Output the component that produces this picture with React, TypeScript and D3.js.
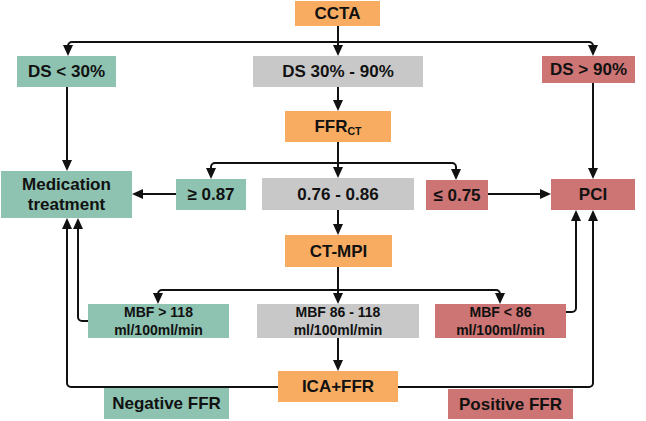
import React from "react";
import * as d3 from "d3";

// ---- Data ----
const nodeIds = ["ccta","ds30","ds3090","ds90","ffr","med","ge087","mid","le075","pci","ctmpi","mbf118","mbf86118","mbf86","ica","neg","pos"];
const nodeLabels: string[][] = [
  ["CCTA"], ["DS < 30%"], ["DS 30% - 90%"], ["DS > 90%"], ["FFR|CT"],
  ["Medication","treatment"], ["≥ 0.87"], ["0.76 - 0.86"], ["≤ 0.75"], ["PCI"],
  ["CT-MPI"], ["MBF > 118","ml/100ml/min"], ["MBF 86 - 118","ml/100ml/min"], ["MBF < 86","ml/100ml/min"],
  ["ICA+FFR"], ["Negative FFR"], ["Positive FFR"],
];
const nodeKinds = ["step","neg","mid","pos","step","neg","neg","mid","pos","pos","step","neg","mid","pos","step","neg","pos"];
const edgeNames = ["ccta-ds3090","ccta-ds30","ccta-ds90","ds3090-ffr","ds30-med","ds90-pci","ffr-mid","ffr-ge","ffr-le","ge-med","le-pci","mid-ctmpi","ctmpi-mbf86118","ctmpi-mbf118","ctmpi-mbf86","mbf118-med","mbf86-pci","mbf86118-ica","ica-med","ica-pci"];

// ---- Layout (pixel boxes: x0, y0, x1, y1) ----
const boxes: Record<string, [number, number, number, number]> = {
  ccta: [295, 1, 380, 26],
  ds30: [17, 56, 116, 87],
  ds3090: [253, 56, 423, 87],
  ds90: [542, 56, 635, 83],
  ffr: [285, 111, 391, 142],
  med: [1, 171, 132, 218],
  ge087: [176, 179, 246, 210],
  mid: [262, 178, 414, 210],
  le075: [426, 180, 488, 210],
  pci: [551, 179, 635, 210],
  ctmpi: [285, 235, 392, 267],
  mbf118: [88, 304, 229, 338],
  mbf86118: [257, 304, 419, 338],
  mbf86: [435, 304, 566, 338],
  ica: [278, 371, 398, 402],
  neg: [104, 388, 229, 419],
  pos: [448, 389, 573, 419],
};
const fontSizes: Record<string, number> = { mbf118: 14, mbf86118: 14, mbf86: 14 };
const lineHeights: Record<string, number> = { mbf118: 18.5, mbf86118: 18.5, mbf86: 18.5, med: 20 };
const colors: Record<string, string> = { step: "#F7AC62", neg: "#8DC3B0", mid: "#C8C8C8", pos: "#CD7574" };

const cx = 338;
const edgePoints: Record<string, [number, number][]> = {
  "ccta-ds3090": [[cx, 26], [cx, 56]],
  "ccta-ds30": [[cx, 42], [68, 42], [68, 56]],
  "ccta-ds90": [[cx, 42], [593, 42], [593, 56]],
  "ds3090-ffr": [[cx, 87], [cx, 111]],
  "ds30-med": [[67, 87], [67, 171]],
  "ds90-pci": [[593, 83], [593, 179]],
  "ffr-mid": [[cx, 142], [cx, 178]],
  "ffr-ge": [[cx, 163], [211, 163], [211, 179]],
  "ffr-le": [[cx, 163], [456, 163], [456, 180]],
  "ge-med": [[176, 194], [132, 194]],
  "le-pci": [[488, 194], [551, 194]],
  "mid-ctmpi": [[cx, 210], [cx, 235]],
  "ctmpi-mbf86118": [[cx, 267], [cx, 304]],
  "ctmpi-mbf118": [[cx, 290], [158, 290], [158, 304]],
  "ctmpi-mbf86": [[cx, 290], [500, 290], [500, 304]],
  "mbf118-med": [[88, 321], [78, 321], [78, 218]],
  "mbf86-pci": [[566, 312], [576, 312], [576, 210]],
  "mbf86118-ica": [[cx, 338], [cx, 371]],
  "ica-med": [[278, 387], [67, 387], [67, 218]],
  "ica-pci": [[398, 387], [593, 387], [593, 210]],
};

function edgePath(pts: [number, number][], r = 4): string {
  const p = d3.path();
  p.moveTo(pts[0][0], pts[0][1]);
  for (let i = 1; i < pts.length - 1; i++) {
    p.arcTo(pts[i][0], pts[i][1], pts[i + 1][0], pts[i + 1][1], r);
  }
  const last = pts[pts.length - 1];
  const prev = pts[pts.length - 2];
  const dx = last[0] - prev[0], dy = last[1] - prev[1];
  const len = Math.hypot(dx, dy);
  p.lineTo(last[0] - (dx / len) * 8, last[1] - (dy / len) * 8);
  return p.toString();
}

function arrowHead(pts: [number, number][]): string {
  const last = pts[pts.length - 1];
  const prev = pts[pts.length - 2];
  const ang = Math.atan2(last[1] - prev[1], last[0] - prev[0]);
  const L = 11, W = 5;
  const bx = last[0] - Math.cos(ang) * L, by = last[1] - Math.sin(ang) * L;
  const nx = -Math.sin(ang) * W, ny = Math.cos(ang) * W;
  const p = d3.path();
  p.moveTo(last[0], last[1]);
  p.lineTo(bx + nx, by + ny);
  p.lineTo(bx - nx, by - ny);
  p.closePath();
  return p.toString();
}

export default function App() {
  return (
    <svg width={646} height={421} style={{ position: "absolute", left: 0, top: 0 }}
      fontFamily="'Liberation Sans', Arial, sans-serif" fontWeight="bold">
      <rect width={646} height={421} fill="#fff" />
      {nodeIds.map((id, i) => {
        const [x0, y0, x1, y1] = boxes[id];
        const fs = fontSizes[id] ?? 17;
        const lines = nodeLabels[i];
        const mx = (x0 + x1) / 2, my = (y0 + y1) / 2;
        const lh = lineHeights[id] ?? fs * 1.17;
        return (
          <g key={id}>
            <rect x={x0} y={y0} width={x1 - x0} height={y1 - y0} fill={colors[nodeKinds[i]]} />
            {lines.map((ln, j) => {
              const y = my + (j - (lines.length - 1) / 2) * lh;
              if (ln.includes("|")) {
                const [a, b] = ln.split("|");
                return (
                  <text key={j} x={mx} y={y} textAnchor="middle" dominantBaseline="central" fontSize={fs} fill="#111">
                    {a}<tspan fontSize={fs * 0.62} dy={4}>{b}</tspan>
                  </text>
                );
              }
              return (
                <text key={j} x={mx} y={y} textAnchor="middle" dominantBaseline="central" fontSize={fs} fill="#111">{ln}</text>
              );
            })}
          </g>
        );
      })}
      {edgeNames.map((name) => {
        const pts = edgePoints[name];
        return (
          <g key={name}>
            <path d={edgePath(pts)} fill="none" stroke="#111" strokeWidth={2} />
            <path d={arrowHead(pts)} fill="#111" />
          </g>
        );
      })}
    </svg>
  );
}
